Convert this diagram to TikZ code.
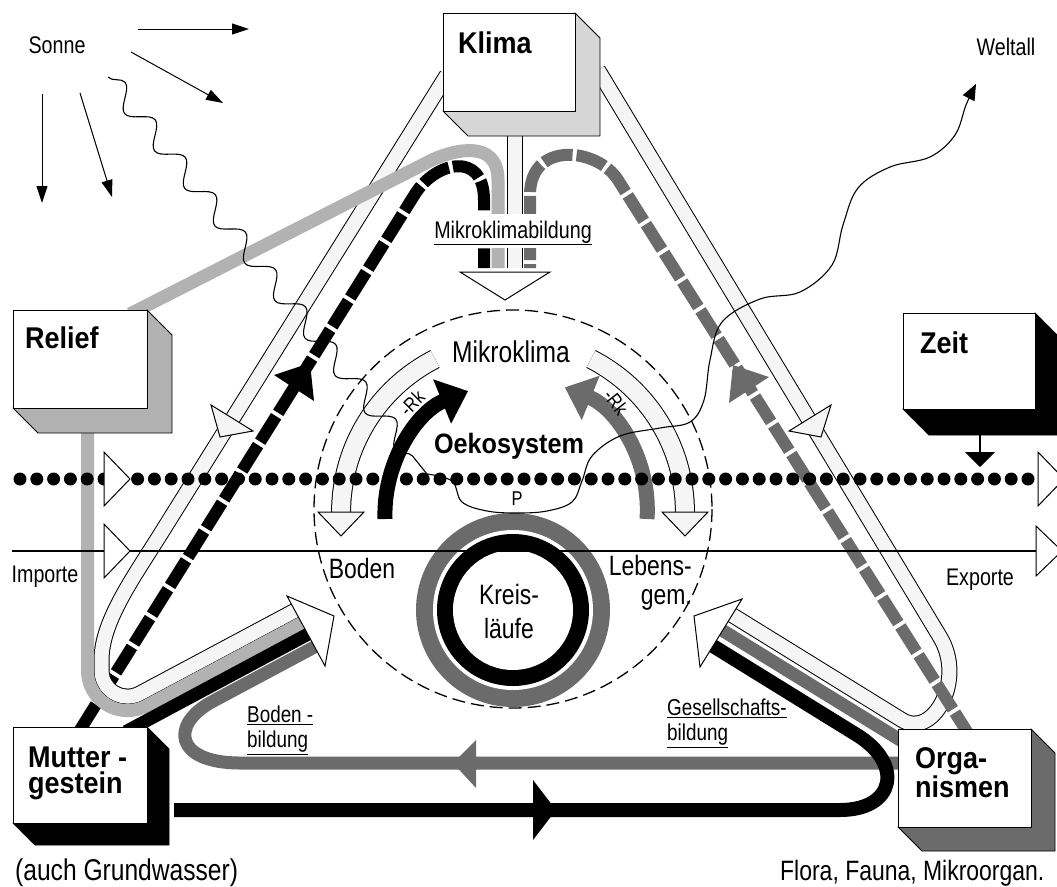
\documentclass[tikz,border=0pt]{standalone}
\usepackage{fontspec}
\setmainfont{Liberation Sans}[FakeStretch=0.82,BoldFeatures={FakeStretch=0.9}]
\usetikzlibrary{arrows.meta,positioning,decorations.pathmorphing}
\definecolor{klimagray}{gray}{0.84}
\definecolor{reliefgray}{gray}{0.70}
\definecolor{orggray}{gray}{0.42}
\definecolor{bandwhite}{gray}{0.96}
\newcommand{\fsz}[1]{\fontsize{#1}{#1}\selectfont}
% 3D factor box: name, x, y (front top left), width, height, depth, shade colour
\newcommand{\factorbox}[7]{%
  \filldraw[fill=#7, line width=0.9pt] (#2+#4,#3) -- ++(#6,#6) -- ++(0,#5) -- ++(-#4,0) -- (#2,#3+#5) -- cycle;
  \node[fbox, minimum width=#4pt, minimum height=#5pt] (#1) at (#2,#3) {};}

\begin{document}
\begin{tikzpicture}[x=1pt, y=-1pt, line join=round,
  fbox/.style={draw, fill=white, line width=0.9pt, anchor=north west, inner sep=0pt},
  ftxt/.style={font=\bfseries\fontsize{30}{26}\selectfont, align=left, inner sep=0pt},
  lbl/.style={font=\fsz{24}, inner sep=0pt},
  wband/.style={double=bandwhite, double distance=14pt, line width=1pt},
  dband/.style={line width=12pt, dash pattern=on 30pt off 4pt},
  ray/.style={line width=1pt, -{Triangle[width=11pt,length=17pt]}},
  head/.style={draw, line width=1pt, line join=miter},
  wave/.style={line width=1.1pt}]
\useasboundingbox (0,0) rectangle (1057,886);
\fill[white] (0,0) rectangle (1057,886);

% sun rays
\draw[ray] (138,29) -- (249,29);
\draw[ray] (131,52) -- (223,103);
\draw[ray] (80,93) -- (112,197);
\draw[ray] (42,94) -- (42,203);

% left side: dashed band, Klima band, Relief bands
\draw[dband] (80,730) -- (415,194) .. controls (435,162) and (484,150) .. (484,200) -- (484,268);
\draw[wband] (447,75) -- (165,527) .. controls (136,574) and (101.5,620) .. (101.5,660) -- (101.5,670.6)
  arc[start angle=180, end angle=62, radius=26] -- (300,608);
\draw[line width=13pt, reliefgray] (87.5,420) -- (87.5,670.6) arc[start angle=180, end angle=62, radius=40] -- (306.5,620.4);
\draw[line width=13pt, reliefgray] (130,314) -- (430,161) .. controls (452,150) and (498,138) .. (498,180) -- (498,268);
\draw[wband] (514.5,125) -- (514.5,268);

% right side: Klima band, Organismen band, dashed band
\draw[wband] (598,70) -- (940,637) .. controls (966,680) and (933,739) .. (902,720) -- (727.8,612.4);
\draw[line width=13pt, orggray] (910,746) -- (718.4,627.9);
\draw[dband, orggray] (971,738) -- (618,180) .. controls (598,148) and (530,140) .. (530,195) -- (530,268);

% bottom bands
\draw[line width=13pt, orggray] (905,763) -- (240,763) .. controls (175,763) and (169,724.5) .. (213.3,701) -- (320,644);
\draw[line width=14pt] (174,810) -- (840,810) .. controls (895,810) and (904,764) .. (857,735) -- (708.8,643.4);
\draw[line width=13pt] (126,731.6) -- (312,632);
\fill (533,780) -- (556,810) -- (533,840) -- cycle;
\fill[orggray] (476,740) -- (453,763) -- (476,788) -- cycle;

% arrowheads on the bands
\filldraw[head, fill=bandwhite] (211,405) -- (253,431) -- (220,437) -- cycle;
\filldraw[head, fill=bandwhite] (789,431) -- (831,405) -- (821,437) -- cycle;
\fill (274,375) -- (314,401) -- (310,363) -- cycle;
\fill[orggray] (769,377) -- (729,403) -- (733,365) -- cycle;
\filldraw[head, fill=white] (287,596) -- (334,616) -- (325,666) -- cycle;
\filldraw[head, fill=white] (742,599) -- (694,616) -- (700,667) -- cycle;
\filldraw[head, fill=white] (460,272) -- (550,272) -- (505,300) -- cycle;

% factor boxes
\factorbox{klima}{443}{13}{132}{98}{25}{klimagray}
\factorbox{relief}{13}{310}{134}{98}{25}{reliefgray}
\factorbox{zeit}{903}{313}{132}{96}{26}{black}
\factorbox{mutter}{13}{727}{134}{96}{22}{black}
\factorbox{organismen}{898}{729}{133}{98}{24}{orggray}
\node[ftxt, below right=19pt and 15pt of klima.north west] (klimatxt) {Klima};
\node[ftxt, below right=17pt and 12pt of relief.north west] (relieftxt) {Relief};
\node[ftxt, below right=19pt and 17pt of zeit.north west] (zeittxt) {Zeit};
\node[ftxt, below right=20pt and 15pt of mutter.north west] (muttertxt) {Mutter -\\gestein};
\node[ftxt, below right=18pt and 17pt of organismen.north west] (orgtxt) {Orga-\\nismen};
\draw[line width=1.5pt, -{Triangle[width=30pt,length=15pt]}] (980,435) -- (980,467);

% ecosystem
\draw[line width=1.3pt, dash pattern=on 13pt off 6pt] (513,509) circle[radius=199];
\draw[wband, double distance=18pt] (435,359) arc[start angle=243, end angle=180, radius=172];
\draw[wband, double distance=18pt] (591,359) arc[start angle=-63, end angle=0, radius=172];
\filldraw[head, fill=bandwhite] (318,512) -- (364,512) -- (341,536) -- cycle;
\filldraw[head, fill=bandwhite] (662,512) -- (708,512) -- (685,536) -- cycle;
\draw[line width=15pt, -{Triangle[width=46pt,length=28pt]}] (385,519) arc[start angle=178, end angle=248, radius=133];
\draw[line width=15pt, orggray, -{Triangle[width=46pt,length=28pt]}] (647,519) arc[start angle=4, end angle=-68, radius=132];
\fill[orggray] (513,610) circle[radius=97];
\fill[white] (513,610) circle[radius=80];
\fill[black] (513,610) circle[radius=76];
\fill[white] (513,610) circle[radius=60];

% imports, exports, matter flow
\draw[line width=1.2pt] (12,551) -- (1040,551);
\foreach \i in {0,...,60}
  \fill (20+16.8*\i,479) circle[radius=6.5];
\filldraw[head, fill=white] (104,452) -- (130,479) -- (104,506) -- cycle;
\filldraw[head, fill=white] (104,524) -- (130,551) -- (104,578) -- cycle;
\filldraw[head, fill=white] (1038,452) -- (1064,479) -- (1038,506) -- cycle;
\filldraw[head, fill=white] (1036,526) -- (1062,551) -- (1036,576) -- cycle;

% radiation
\draw[wave, decorate, decoration={snake, segment length=48pt, amplitude=10pt}] (108,77) -- (427,474);
\draw[wave, -{Triangle[width=13pt,length=16pt]}] plot[smooth, tension=0.6] coordinates {(427,474) (452,481) (462,502) (487,511) (517,513) (547,511) (572,502) (582,481) (592,456) (620,436) (660,428) (690,422) (704,400) (710,360) (722,322) (760,299) (800,292) (832,265) (843,225) (858,188) (890,167) (930,157) (955,135) (966,105) (976,84)};

% labels
\node[lbl, anchor=base] (sonne) at (57,53) {Sonne};
\node[lbl, anchor=base] (weltall) at (1006,55) {Weltall};
\node[lbl, anchor=base] (importe) at (45,582) {Importe};
\node[lbl, anchor=base] (exporte) at (980,585) {Exporte};
\node[lbl, anchor=base, fill=white, inner xsep=1pt, text height=24pt, text depth=10pt] (mkbildung) at (513,238) {\underline{Mikroklimabildung}};
\node[lbl, font=\fsz{30}, anchor=base] (mikroklima) at (511,362) {Mikroklima};
\node[lbl, font=\bfseries\fsz{28}, anchor=base] (oeko) at (509,453) {Oekosystem};
\node[lbl, font=\fsz{20}, rotate=45] (rkl) at (412,403) {-Rk};
\node[lbl, font=\fsz{20}, rotate=-52] (rkr) at (616,402) {-Rk};
\node[lbl, font=\fsz{20}] (p) at (517,499) {P};
\node[lbl, font=\fsz{28}, anchor=base] (boden) at (362,578) {Boden};
\node[lbl, font=\fontsize{28}{29}\selectfont, align=right, anchor=east] (lebens) at (692,583) {Lebens-\\gem.};
\node[lbl, font=\fontsize{28}{34}\selectfont, align=center] (kreis) at (509,611) {Kreis-\\läufe};
\node[lbl, font=\fontsize{23}{25}\selectfont, align=left, anchor=north west] (bodenbild) at (247,706) {\underline{Boden -}\\\underline{bildung}};
\node[lbl, font=\fontsize{23}{25}\selectfont, align=left, anchor=north west] (gesbild) at (667,699) {\underline{Gesellschafts-}\\\underline{bildung}};
\node[lbl, font=\fsz{30}, anchor=base west] (grundw) at (15,880) {(auch Grundwasser)};
\node[lbl, font=\fsz{28}, anchor=base west] (flora) at (780,880) {Flora, Fauna, Mikroorgan.};
\end{tikzpicture}
\end{document}
